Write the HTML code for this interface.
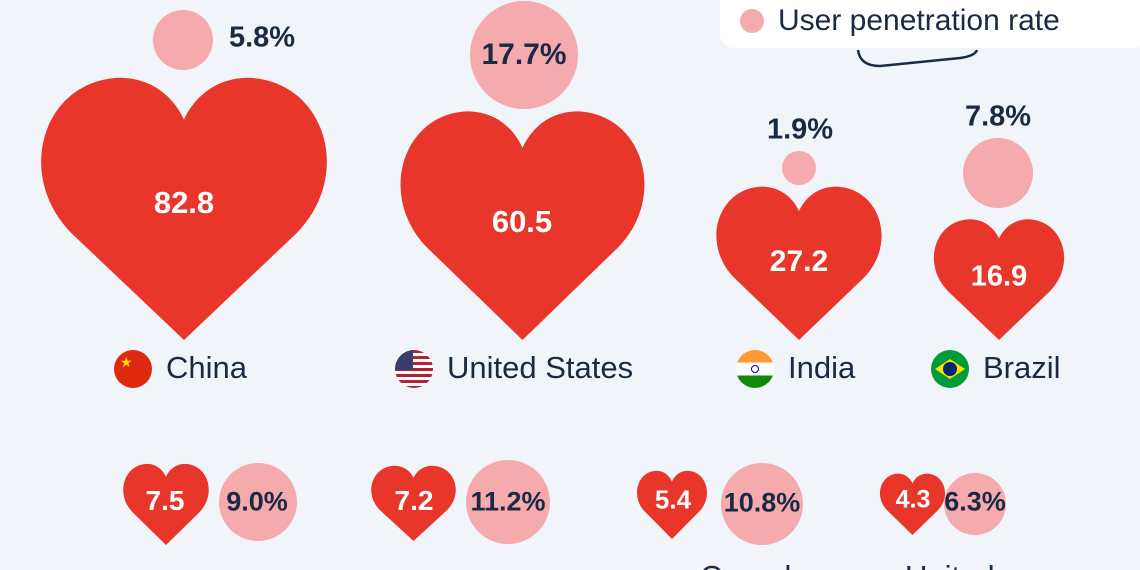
<!DOCTYPE html>
<html style="overflow:hidden;height:570px"><head><meta charset="utf-8"><style>
body{margin:0;width:1140px;height:570px;overflow:hidden;background:#f1f5f9;font-family:"Liberation Sans","DejaVu Sans",sans-serif;position:relative}
.h{position:absolute}
.t{position:absolute;transform:translate(-50%,-50%);font-weight:bold;white-space:nowrap}
.w{color:#fff}
.d{color:#1a2a45}
.c{position:absolute;border-radius:50%;background:#f5aaae}
.lab{position:absolute;font-size:31px;color:#1a2a45;white-space:nowrap}
.f{position:absolute;width:38px;height:38px;border-radius:50%;overflow:hidden}
</style></head><body>
<svg width="0" height="0" style="position:absolute"><defs><path id="hp" d="M50 95 L12 57 C-8 36 2 2 28 1 C40 1 47 9 50 16 C53 9 60 1 72 1 C98 2 108 36 88 57 Z" fill="#e8372a"/></defs></svg>

<div style="position:absolute;left:720px;top:-10px;width:430px;height:58px;background:#fff;border-radius:14px"></div>
<div class="c" style="left:740px;top:9px;width:24px;height:24px"></div>
<div class="lab" style="left:778px;top:4px;font-size:30px">User penetration rate</div>
<svg class="h" style="left:850px;top:40px" width="140" height="35"><path d="M8 10 Q10 26 30 26 L110 18 Q125 16 127 10" stroke="#1a2a45" stroke-width="2.5" fill="none"/></svg>

<svg class="h" style="left:37px;top:75px" width="294" height="265" viewBox="0 0 100 95" preserveAspectRatio="none"><use href="#hp"/></svg>
<svg class="h" style="left:397px;top:109px" width="251" height="231" viewBox="0 0 100 95" preserveAspectRatio="none"><use href="#hp"/></svg>
<svg class="h" style="left:714px;top:185px" width="170" height="155" viewBox="0 0 100 95" preserveAspectRatio="none"><use href="#hp"/></svg>
<svg class="h" style="left:932px;top:218px" width="134" height="122" viewBox="0 0 100 95" preserveAspectRatio="none"><use href="#hp"/></svg>
<svg class="h" style="left:122px;top:463px" width="88" height="82" viewBox="0 0 100 95" preserveAspectRatio="none"><use href="#hp"/></svg>
<svg class="h" style="left:370px;top:465px" width="87" height="76" viewBox="0 0 100 95" preserveAspectRatio="none"><use href="#hp"/></svg>
<svg class="h" style="left:636px;top:470px" width="72" height="69" viewBox="0 0 100 95" preserveAspectRatio="none"><use href="#hp"/></svg>
<svg class="h" style="left:879px;top:473px" width="67" height="62" viewBox="0 0 100 95" preserveAspectRatio="none"><use href="#hp"/></svg>

<div class="t w" style="left:184px;top:203px;font-size:31px">82.8</div>
<div class="t w" style="left:522px;top:222px;font-size:31px">60.5</div>
<div class="t w" style="left:799px;top:262px;font-size:30px">27.2</div>
<div class="t w" style="left:999px;top:277px;font-size:29px">16.9</div>
<div class="t w" style="left:165px;top:501px;font-size:28px">7.5</div>
<div class="t w" style="left:414px;top:501px;font-size:28px">7.2</div>
<div class="t w" style="left:673px;top:500px;font-size:26px">5.4</div>
<div class="t w" style="left:913px;top:500px;font-size:25px">4.3</div>

<div class="c" style="left:153px;top:10px;width:60px;height:60px"></div>
<div class="t d" style="left:262px;top:38px;font-size:29px">5.8%</div>
<div class="c" style="left:470px;top:1px;width:108px;height:108px"></div>
<div class="t d" style="left:524px;top:55px;font-size:30px">17.7%</div>
<div class="c" style="left:782px;top:151px;width:34px;height:34px"></div>
<div class="t d" style="left:800px;top:130px;font-size:29px">1.9%</div>
<div class="c" style="left:963px;top:138px;width:70px;height:70px"></div>
<div class="t d" style="left:998px;top:117px;font-size:29px">7.8%</div>
<div class="c" style="left:219px;top:463px;width:78px;height:78px"></div>
<div class="t d" style="left:257px;top:502px;font-size:27px">9.0%</div>
<div class="c" style="left:466px;top:460px;width:84px;height:84px"></div>
<div class="t d" style="left:508px;top:502px;font-size:27px">11.2%</div>
<div class="c" style="left:721px;top:463px;width:82px;height:82px"></div>
<div class="t d" style="left:762px;top:503px;font-size:27px">10.8%</div>
<div class="c" style="left:944px;top:473px;width:62px;height:62px"></div>
<div class="t d" style="left:975px;top:502px;font-size:27px">6.3%</div>

<div class="f" style="left:114px;top:350px;background:#de2910"><span style="position:absolute;left:6px;top:4px;color:#ffde00;font-size:14px">★</span></div>
<div class="f" style="left:395px;top:350px;background:repeating-linear-gradient(#b22234 0 3px,#fff 3px 6px)"><div style="width:18px;height:20px;background:#3c3b6e"></div></div>
<div class="f" style="left:736px;top:350px;background:linear-gradient(#ff9933 0 33%,#fff 33% 67%,#138808 67%)"><div style="position:absolute;left:15px;top:15px;width:6px;height:6px;border:1px solid #000080;border-radius:50%"></div></div>
<div class="f" style="left:931px;top:350px;background:#009c3b"><div style="position:absolute;left:4px;top:9px;width:30px;height:20px;background:#ffdf00;clip-path:polygon(50% 0,100% 50%,50% 100%,0 50%)"></div><div style="position:absolute;left:12px;top:12px;width:14px;height:14px;border-radius:50%;background:#002776"></div></div>

<div class="lab" style="left:166px;top:350px">China</div>
<div class="lab" style="left:447px;top:350px">United States</div>
<div class="lab" style="left:788px;top:350px">India</div>
<div class="lab" style="left:983px;top:350px">Brazil</div>
<div class="lab" style="left:700px;top:559px">Canada</div>
<div class="lab" style="left:905px;top:559px">United</div>
</body></html>
